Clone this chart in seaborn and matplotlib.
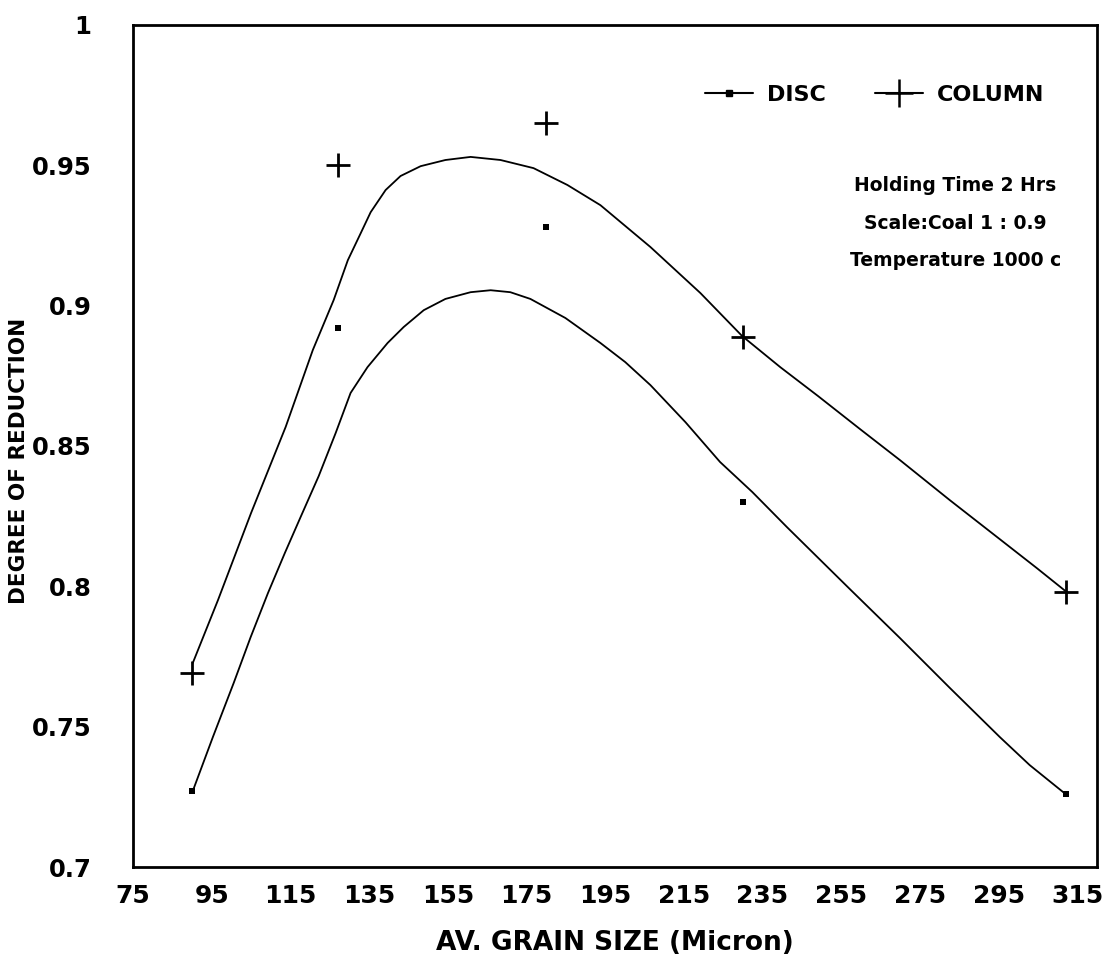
import numpy as np
import pandas as pd
import matplotlib
matplotlib.use("Agg")
import matplotlib.pyplot as plt
from matplotlib.lines import Line2D
import seaborn as sns

# measured points
grain_size = [90, 127, 180, 230, 312]
disc_values = [0.727, 0.892, 0.928, 0.830, 0.726]
column_values = [0.769, 0.950, 0.965, 0.889, 0.798]

# fitted curves
column_fit_x = [90.2, 96.6, 105.0, 113.8, 120.7, 126.0, 129.6, 132.9, 135.4, 139.2, 143.0, 148.1,
                154.4, 160.8, 168.4, 176.8, 185.4, 193.8, 206.5, 219.2, 229.8, 239.5, 249.1,
                259.8, 269.9, 282.6, 295.3, 304.7, 312.0]
column_fit_y = [0.7727, 0.7951, 0.8261, 0.8568, 0.8842, 0.9020, 0.9162, 0.9259, 0.9333, 0.9412,
                0.9462, 0.9497, 0.9519, 0.9530, 0.9519, 0.9490, 0.9430, 0.9358, 0.9209, 0.9045,
                0.8892, 0.8781, 0.8678, 0.8560, 0.8450, 0.8307, 0.8168, 0.8065, 0.7983]
disc_fit_x = [90.2, 95.3, 100.6, 104.9, 109.3, 113.6, 117.6, 122.2, 126.5, 130.3, 134.6, 139.7,
              143.8, 148.9, 154.4, 160.8, 165.9, 170.9, 176.0, 184.9, 193.8, 200.1, 206.5,
              215.4, 224.2, 232.4, 241.2, 257.2, 269.9, 282.6, 295.3, 302.9, 312.0]
disc_fit_y = [0.7271, 0.7463, 0.7656, 0.7819, 0.7976, 0.8119, 0.8247, 0.8393, 0.8546, 0.8689,
              0.8781, 0.8867, 0.8924, 0.8984, 0.9024, 0.9048, 0.9055, 0.9048, 0.9024, 0.8956,
              0.8867, 0.8799, 0.8717, 0.8585, 0.8443, 0.8336, 0.8211, 0.7990, 0.7816, 0.7638,
              0.7463, 0.7363, 0.7260]

x_ticks = [75, 95, 115, 135, 155, 175, 195, 215, 235, 255, 275, 295, 315]
y_ticks = [0.7, 0.75, 0.8, 0.85, 0.9, 0.95, 1.0]
y_tick_labels = ["0.7", "0.75", "0.8", "0.85", "0.9", "0.95", "1"]
series_names = ["DISC", "COLUMN"]
notes = ["Holding Time 2 Hrs", "Scale:Coal 1 : 0.9", "Temperature 1000 c"]

sns.set_style("white")
plt.rcParams['font.family'] = ['DejaVu Sans']
plt.rcParams['text.color'] = 'black'
plt.rcParams['axes.labelcolor'] = 'black'
plt.rcParams['xtick.color'] = 'black'
plt.rcParams['ytick.color'] = 'black'

fig = plt.figure(figsize=(11.05, 9.8), dpi=100)
ax = fig.add_axes([133/1105, 113/980, (1097-133)/1105, (867-25)/980])

sns.lineplot(x=column_fit_x, y=column_fit_y, ax=ax, color="black", lw=1.3, sort=False)
sns.lineplot(x=disc_fit_x, y=disc_fit_y, ax=ax, color="black", lw=1.3, sort=False)

sns.scatterplot(x=grain_size, y=disc_values, ax=ax, marker="s", s=22, color="black",
                edgecolor="black", linewidth=0)
sns.scatterplot(x=grain_size, y=column_values, ax=ax, marker="+", s=320, color="black",
                linewidth=2)

ax.set_xlim(75, 320)
ax.set_ylim(0.7, 1.0)
ax.set_xticks(x_ticks)
ax.set_xticklabels([str(t) for t in x_ticks])
ax.set_yticks(y_ticks)
ax.set_yticklabels(y_tick_labels)
ax.tick_params(axis="y", direction="out", length=10, width=1.5, labelsize=17.5, pad=20,
               colors="black")
ax.tick_params(axis="x", direction="in", length=10, width=2, labelsize=18, pad=12,
               colors="black")
for lab in ax.get_xticklabels() + ax.get_yticklabels():
    lab.set_fontweight("bold")
for sp in ax.spines.values():
    sp.set_visible(True)
    sp.set_color("black")
    sp.set_linewidth(2)

ax.set_xlabel("AV. GRAIN SIZE (Micron)", fontsize=19, fontweight="bold", labelpad=16,
              color="black")
ax.set_ylabel("DEGREE OF REDUCTION", fontsize=15.5, fontweight="semibold", color="black")
ax.yaxis.set_label_coords(-0.108, 0.482)

# legend
handles = [Line2D([], [], color="black", lw=1.5, marker="s", markersize=4),
           Line2D([], [], color="black", lw=1.5, marker="+", markersize=20, markeredgewidth=1.8)]
leg = ax.legend(handles, series_names, loc="center", bbox_to_anchor=(0.769, 0.917),
                ncol=2, frameon=False, prop={"weight": "bold", "size": 16}, handlelength=2.2,
                columnspacing=2.2, handletextpad=0.6)
for t in leg.get_texts():
    t.set_color("black")

for i, t in enumerate(notes):
    ax.text(0.853, 0.809 - i * 0.0445, t, transform=ax.transAxes, ha="center", va="center",
            fontsize=13.5, fontweight="bold", color="black")

fig.savefig("out.png", dpi=100)
